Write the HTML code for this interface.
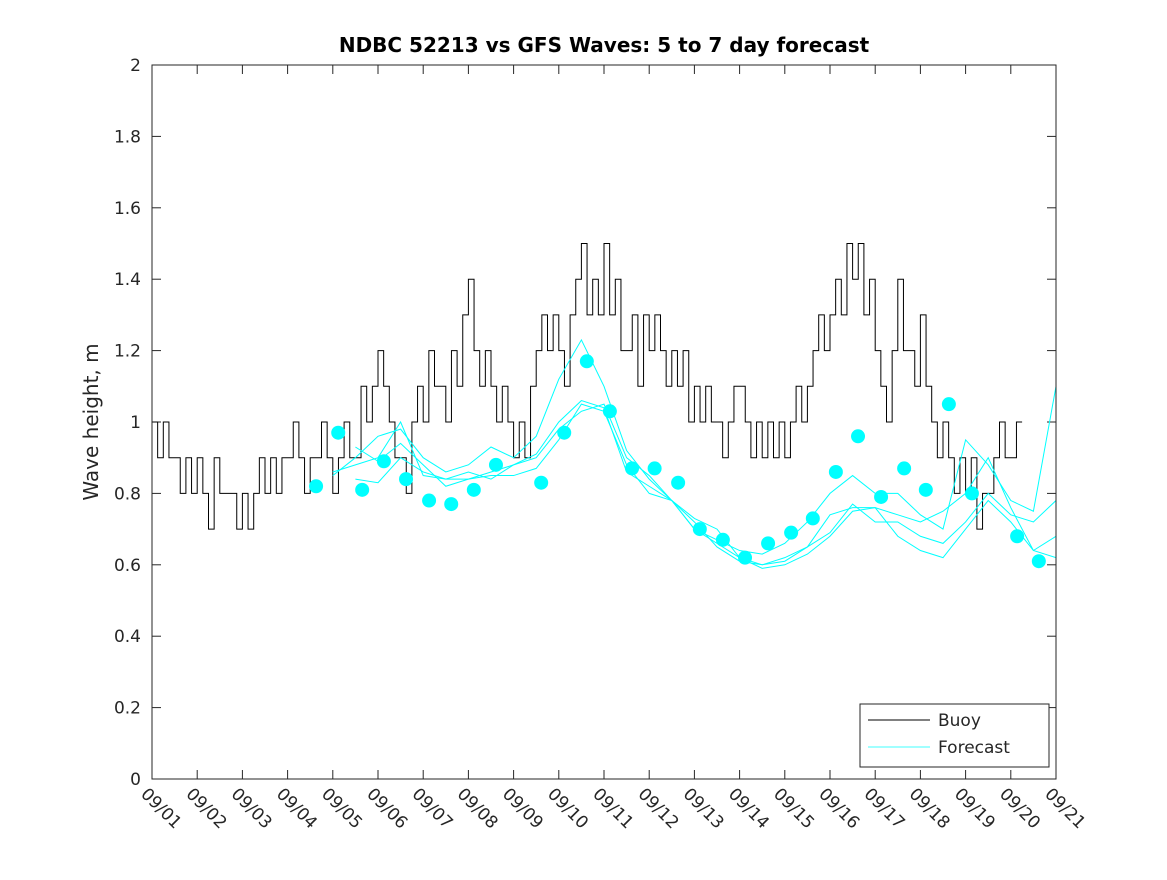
<!DOCTYPE html>
<html><head><meta charset="utf-8"><style>
body{margin:0;background:#fff;}
svg text{font-family:"DejaVu Sans","Liberation Sans",sans-serif;fill:#262626;}
</style></head><body>
<svg id="chart" width="1167" height="875" xmlns="http://www.w3.org/2000/svg">
<defs><clipPath id="pc"><rect x="152" y="65" width="904" height="714"/></clipPath></defs>
<rect width="1167" height="875" fill="#fff"/>
<text x="604" y="52" text-anchor="middle" font-size="20" font-weight="bold" style="fill:#000">NDBC 52213 vs GFS Waves: 5 to 7 day forecast</text>
<text transform="translate(98,422) rotate(-90)" text-anchor="middle" font-size="20">Wave height, m</text>
<g id="grid"></g>
<g id="series" clip-path="url(#pc)"></g>
<rect x="152" y="65" width="904" height="714" fill="none" stroke="#262626" stroke-width="1"/>
<g>
<rect x="860" y="704" width="189" height="63" fill="#fff" stroke="#262626"/>
<line x1="868" y1="720" x2="930" y2="720" stroke="#000"/>
<text x="938" y="726" font-size="17">Buoy</text>
<line x1="868" y1="747" x2="930" y2="747" stroke="#00ffff" stroke-width="0.8"/>
<text x="938" y="753" font-size="17">Forecast</text>
</g>
</svg>
<script>
const xTickLabels=["09/01","09/02","09/03","09/04","09/05","09/06","09/07","09/08","09/09","09/10","09/11","09/12","09/13","09/14","09/15","09/16","09/17","09/18","09/19","09/20","09/21"];
const yTicks=[0,0.2,0.4,0.6,0.8,1,1.2,1.4,1.6,1.8,2];
const yTickLabels=["0","0.2","0.4","0.6","0.8","1","1.2","1.4","1.6","1.8","2"];
// buoy: 3-hourly values starting 09/01 00:00
const buoy=[1.0,0.9,1.0,0.9,0.9,0.8,0.9,0.8, 0.9,0.8,0.7,0.9,0.8,0.8,0.8,0.7, 0.8,0.7,0.8,0.9,0.8,0.9,0.8,0.9,
0.9,1.0,0.9,0.8,0.9,0.9,1.0,0.9, 0.8,0.9,1.0,0.9,0.9,1.1,1.0,1.1, 1.2,1.1,1.0,0.9,0.9,0.8,1.0,1.1,
1.0,1.2,1.1,1.1,1.0,1.2,1.1,1.3, 1.4,1.2,1.1,1.2,1.1,1.0,1.1,1.0, 0.9,1.0,0.9,1.1,1.2,1.3,1.2,1.3,
1.2,1.1,1.3,1.4,1.5,1.3,1.4,1.3, 1.5,1.3,1.4,1.2,1.2,1.3,1.1,1.3, 1.2,1.3,1.2,1.1,1.2,1.1,1.2,1.0,
1.1,1.0,1.1,1.0,1.0,0.9,1.0,1.1, 1.1,1.0,0.9,1.0,0.9,1.0,0.9,1.0, 0.9,1.0,1.1,1.0,1.1,1.2,1.3,1.2,
1.3,1.4,1.3,1.5,1.4,1.5,1.3,1.4, 1.2,1.1,1.0,1.2,1.4,1.2,1.2,1.1, 1.3,1.1,1.0,0.9,1.0,0.9,0.8,0.9,
0.8,0.9,0.7,0.8,0.8,0.9,1.0,0.9, 0.9,1.0];
const buoyStep=0.125;
// forecast lines sampled every 0.5 day from day 4.0
const fcStart=4.0, fcStep=0.5;
const fc1=[0.85,0.90,0.96,0.98,0.90,0.86,0.88,0.93,0.90,0.96,1.12,1.23,1.10,0.92,0.84,0.78,0.70,0.67,0.64,0.63,0.66,0.72,0.80,0.85,0.80,0.80,0.74,0.70,0.95,0.88,0.78,0.75,1.10];
const fc2=[0.86,0.88,0.90,1.00,0.85,0.84,0.84,0.86,0.88,0.90,0.98,1.03,1.05,0.90,0.85,0.78,0.73,0.70,0.62,0.60,0.61,0.65,0.74,0.76,0.76,0.74,0.72,0.75,0.80,0.90,0.76,0.64,0.62];
const fc3=[null,0.93,0.89,0.94,0.88,0.82,0.84,0.85,0.85,0.87,0.95,1.05,1.03,0.88,0.80,0.78,0.70,0.66,0.62,0.59,0.60,0.63,0.68,0.75,0.76,0.68,0.64,0.62,0.70,0.78,0.72,0.64,0.68];
const fc4=[null,0.84,0.83,0.90,0.86,0.84,0.86,0.84,0.88,0.91,1.00,1.06,1.04,0.86,0.82,0.78,0.72,0.65,0.61,0.60,0.62,0.65,0.69,0.77,0.72,0.72,0.68,0.66,0.72,0.80,0.74,0.72,0.78];
const dotDays=[3.63,4.12,4.65,5.13,5.62,6.13,6.62,7.12,7.61,8.61,9.12,9.62,10.13,10.62,11.12,11.64,12.12,12.63,13.12,13.63,14.14,14.62,15.13,15.62,16.13,16.64,17.12,17.63,18.14,19.14,19.62];
const dotVals=[0.82,0.97,0.81,0.89,0.84,0.78,0.77,0.81,0.88,0.83,0.97,1.17,1.03,0.87,0.87,0.83,0.70,0.67,0.62,0.66,0.69,0.73,0.86,0.96,0.79,0.87,0.81,1.05,0.80,0.68,0.61];

const X=d=>152+d*904/20, Y=v=>779-v*357;
const NS="http://www.w3.org/2000/svg";
const grid=document.getElementById('grid'), ser=document.getElementById('series');
function mk(t,a,p){const e=document.createElementNS(NS,t);for(const k in a)e.setAttribute(k,a[k]);p.appendChild(e);return e;}
xTickLabels.forEach((l,i)=>{
  const x=X(i);
  const t1=mk('line',{x1:x,y1:779,x2:x,y2:770,stroke:'#262626'},grid);
  
  
  mk('line',{x1:x,y1:65,x2:x,y2:74,stroke:'#262626'},grid);
  const t=mk('text',{transform:`translate(${x-12},${795}) rotate(45)`,'font-size':17},grid);
  
  
  t.textContent=l;
});
yTicks.forEach((v,i)=>{
  const y=Y(v);
  const t1=mk('line',{x1:152,y1:y,x2:161,y2:y,stroke:'#262626'},grid);
  
  
  mk('line',{x1:1047,y1:y,x2:1056,y2:y,stroke:'#262626'},grid);
  const t=mk('text',{x:141,y:y+6,'text-anchor':'end','font-size':17},grid);
  
  
  t.textContent=yTickLabels[i];
});
let d='';
buoy.forEach((v,i)=>{const x0=X(i*buoyStep),x1=X((i+1)*buoyStep),y=Y(v);d+=(i?'L':'M')+x0+' '+y+'L'+x1+' '+y;});
const bl=mk('path',{d:d,fill:'none',stroke:'#000','stroke-width':1},ser);


[fc1,fc2,fc3,fc4].forEach((arr,k)=>{
  let p='',pen=false;
  arr.forEach((v,i)=>{if(v==null){pen=false;return;}p+=(pen?'L':'M')+X(fcStart+i*fcStep)+' '+Y(v);pen=true;});
  const e=mk('path',{d:p,fill:'none',stroke:'#00ffff','stroke-width':1},ser);
  
  
});
dotDays.forEach((dd,i)=>{
  const c=mk('circle',{cx:X(dd),cy:Y(dotVals[i]),r:7,fill:'#00ffff'},ser);
  
  
});
</script>
</body></html>
